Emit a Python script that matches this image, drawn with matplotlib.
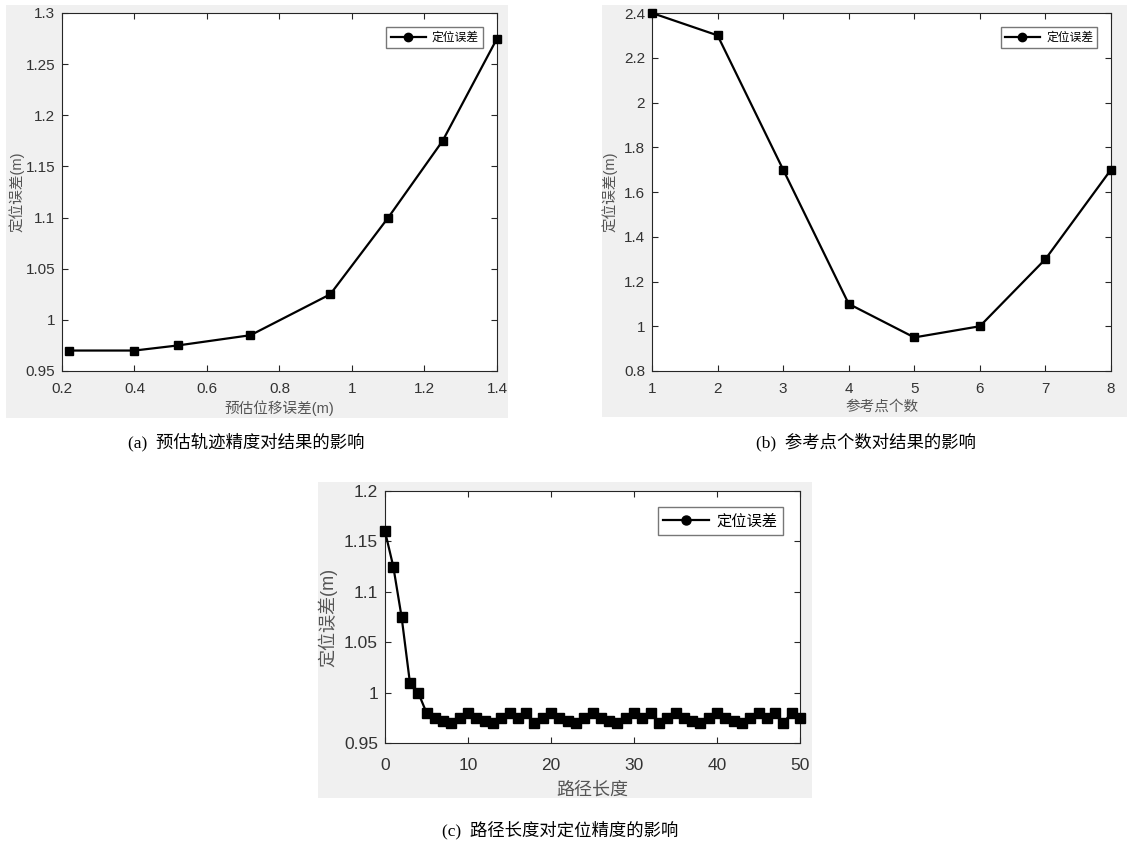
import matplotlib.pyplot as plt
from matplotlib.lines import Line2D
from matplotlib.patches import Rectangle
from matplotlib.ticker import FormatStrFormatter
import numpy as np

plt.rcParams['font.family'] = ['Liberation Sans', 'Noto Sans CJK SC']

# (a) predicted displacement error vs localisation error
a_x = [0.22, 0.40, 0.52, 0.72, 0.94, 1.10, 1.25, 1.40]
a_y = [0.970, 0.970, 0.975, 0.985, 1.025, 1.100, 1.175, 1.275]

# (b) number of reference points
b_x = [1, 2, 3, 4, 5, 6, 7, 8]
b_y = [2.40, 2.30, 1.70, 1.10, 0.95, 1.00, 1.30, 1.70]

# (c) path length
c_x = list(range(51))
c_y = [1.160, 1.125, 1.075, 1.010, 1.000, 0.980, 0.975, 0.972, 0.970, 0.975,
       0.980, 0.975, 0.972, 0.970, 0.975, 0.980, 0.975, 0.980, 0.970, 0.975,
       0.980, 0.975, 0.972, 0.970, 0.975, 0.980, 0.975, 0.972, 0.970, 0.975,
       0.980, 0.975, 0.980, 0.970, 0.975, 0.980, 0.975, 0.972, 0.970, 0.975,
       0.980, 0.975, 0.972, 0.970, 0.975, 0.980, 0.975, 0.980, 0.970, 0.980,
       0.975]

LEGEND_LABEL = '定位误差'
Y_LABEL = '定位误差(m)'
captions = ['(a)  预估轨迹精度对结果的影响', '(b)  参考点个数对结果的影响', '(c)  路径长度对定位精度的影响']

W, H = 1127, 843
fig = plt.figure(figsize=(W / 100, H / 100), dpi=100)
fig.patch.set_facecolor('white')


def px_rect(x0, y0, x1, y1):
    # pixel box (top-left origin) -> figure fraction [l, b, w, h]
    return [x0 / W, 1 - y1 / H, (x1 - x0) / W, (y1 - y0) / H]


def panel_bg(x0, y0, x1, y1):
    l, b, w, h = px_rect(x0, y0, x1, y1)
    fig.patches.append(Rectangle((l, b), w, h, transform=fig.transFigure,
                                 facecolor='#f0f0f0', edgecolor='none', zorder=-5))


def style_axes(ax, fs, xpad, ypad):
    for s in ax.spines.values():
        s.set_color('#262626')
        s.set_linewidth(0.8)
    ax.tick_params(direction='in', top=True, right=True, length=4, width=0.8,
                   color='#262626', labelcolor='#333333', labelsize=fs)
    ax.tick_params(axis='x', pad=xpad)
    ax.tick_params(axis='y', pad=ypad)


def draw(ax, x, y, ms, lfs, loc_anchor):
    ax.plot(x, y, color='black', lw=1.6, marker='s', ms=ms, clip_on=False, zorder=3)
    h = Line2D([], [], color='black', lw=1.6, marker='o', ms=ms)
    ax.legend([h], [LEGEND_LABEL], loc='upper right', bbox_to_anchor=loc_anchor,
              borderaxespad=0, frameon=True, fancybox=False, edgecolor='#555555',
              handlelength=3.0, borderpad=0.35, handletextpad=0.5,
              prop={'family': ['Noto Sans CJK SC'], 'size': lfs})


panel_bg(6, 5, 508, 418)
panel_bg(602, 5, 1127, 417)
panel_bg(318, 482, 812, 798)

# (a)
ax1 = fig.add_axes(px_rect(62, 13, 497, 371))
draw(ax1, a_x, a_y, 6, 8.5, (0.968, 0.961))
ax1.set_xlim(0.2, 1.4)
ax1.set_ylim(0.95, 1.3)
ax1.set_xticks(np.arange(0.2, 1.41, 0.2))
ax1.set_yticks(np.arange(0.95, 1.301, 0.05))
style_axes(ax1, 11, 8, 5)
ax1.xaxis.set_major_formatter(FormatStrFormatter('%g'))
ax1.yaxis.set_major_formatter(FormatStrFormatter('%g'))
ax1.set_xlabel('预估位移误差(m)', fontsize=10.5, color='#555555')
ax1.set_ylabel(Y_LABEL, fontsize=10.5, color='#555555')
ax1.xaxis.set_label_coords(0.5, -0.081)
ax1.yaxis.set_label_coords(-0.087, 0.5)

# (b)
ax2 = fig.add_axes(px_rect(652, 13, 1111, 371))
draw(ax2, b_x, b_y, 6, 8.5, (0.97, 0.961))
ax2.set_xlim(1, 8)
ax2.set_ylim(0.8, 2.4)
ax2.set_xticks(b_x)
ax2.set_yticks(np.arange(0.8, 2.401, 0.2))
style_axes(ax2, 11, 8, 5)
ax2.yaxis.set_major_formatter(FormatStrFormatter('%g'))
ax2.set_xlabel('参考点个数', fontsize=10.5, color='#555555')
ax2.set_ylabel(Y_LABEL, fontsize=10.5, color='#555555')
ax2.xaxis.set_label_coords(0.5, -0.081)
ax2.yaxis.set_label_coords(-0.076, 0.5)

# (c)
ax3 = fig.add_axes(px_rect(385, 491, 800, 743))
draw(ax3, c_x, c_y, 6.5, 11, (0.959, 0.937))
ax3.set_xlim(0, 50)
ax3.set_ylim(0.95, 1.2)
ax3.set_xticks(range(0, 51, 10))
ax3.set_yticks(np.arange(0.95, 1.201, 0.05))
style_axes(ax3, 12.5, 11, 5)
ax3.yaxis.set_major_formatter(FormatStrFormatter('%g'))
ax3.set_xlabel('路径长度', fontsize=13, color='#555555')
ax3.set_ylabel(Y_LABEL, fontsize=13, color='#555555')
ax3.xaxis.set_label_coords(0.5, -0.153)
ax3.yaxis.set_label_coords(-0.116, 0.5)

cap_font = ['Liberation Serif', 'Noto Sans CJK SC']
fig.text(246 / W, 1 - 442 / H, captions[0], ha='center', va='center', fontsize=12.5, family=cap_font)
fig.text(866 / W, 1 - 442 / H, captions[1], ha='center', va='center', fontsize=12.5, family=cap_font)
fig.text(560 / W, 1 - 830 / H, captions[2], ha='center', va='center', fontsize=12.5, family=cap_font)

fig.savefig('out.png', dpi=100)
